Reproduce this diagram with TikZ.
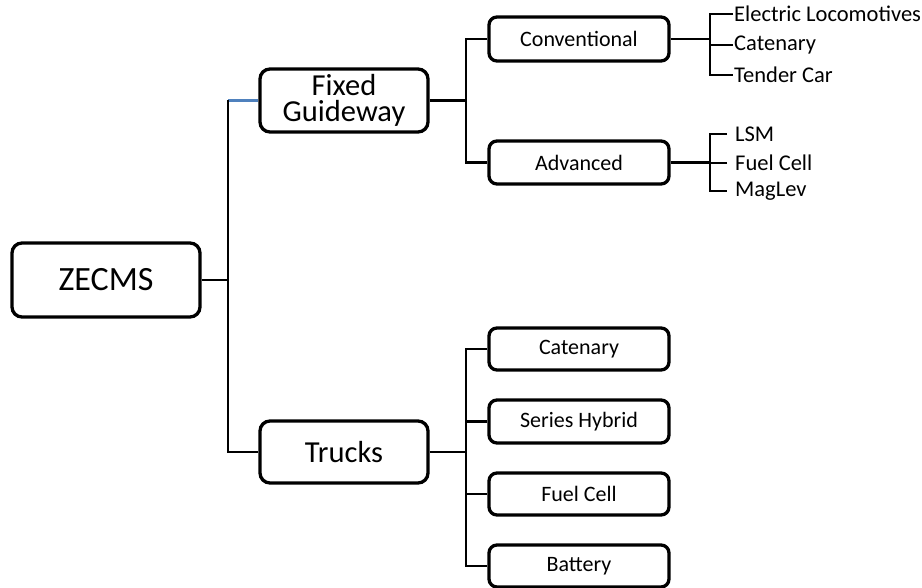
\documentclass[tikz,border=0pt]{standalone}
\usepackage{fontspec}
\setmainfont{Carlito}
\definecolor{linkblue}{HTML}{4F81BD}
\begin{document}
\begin{tikzpicture}[x=1pt,y=-1pt,
  box/.style={draw=black,line width=3.3pt,rounded corners=10pt,fill=white,inner sep=0pt,align=center},
  bigbox/.style={box,minimum width=188pt,minimum height=74pt,font=\fontsize{34}{34}\selectfont},
  midbox/.style={box,minimum width=168pt,minimum height=62pt,font=\fontsize{30.5}{25.5}\selectfont},
  smallbox/.style={box,rounded corners=8pt,minimum width=180pt,minimum height=43pt,font=\fontsize{22}{24}\selectfont},
  leaf/.style={anchor=west,inner xsep=1pt,inner ysep=0pt,font=\fontsize{22.5}{24}\selectfont},
  advleaf/.style={leaf,inner xsep=8pt},
  conn/.style={draw=black,line width=2.2pt}]
\useasboundingbox (0,0) rectangle (922,588);

\node[bigbox] (zecms) at (106,280) {ZECMS};
\node[midbox,minimum height=63pt] (fixed) at (344,100.5) {Fixed\\Guideway};
\node[midbox] (trucks) at (344,452) {Trucks};

\node[smallbox,minimum height=44pt] (conv) at (579,39) {Conventional};
\node[smallbox] (adv) at (579,162.5) {Advanced};

\node[smallbox,minimum height=42pt] (tcat) at (579,349) {Catenary};
\node[smallbox] (tsh) at (579,421.5) {Series Hybrid};
\node[smallbox,minimum height=42pt] (tfc) at (579,494) {Fuel Cell};
\node[smallbox,minimum height=42pt] (tbat) at (579,566) {Battery};

\node[leaf] (el) at (733,14) {Electric Locomotives};
\node[leaf] (ccat) at (733,45) {Catenary};
\node[leaf] (tc) at (733,75) {Tender Car};

\node[advleaf] (lsm) at (727,134) {LSM};
\node[advleaf] (afc) at (727,163) {Fuel Cell};
\node[advleaf] (mag) at (727,191) {MagLev};

% ZECMS trunk
\draw[conn,linkblue] (fixed.west) -- ++(-30,0) coordinate (j1);
\draw[conn] (j1) |- (trucks.west);
\draw[conn] (zecms.east) -- (zecms.east -| j1);

% Fixed Guideway
\draw[conn] (conv.west) -- ++(-21,0) coordinate (j2) |- (adv.west);
\draw[conn] (fixed.east) -- (fixed.east -| j2);

% Trucks
\draw[conn] (tcat.west) -- ++(-21,0) coordinate (j3) |- (tbat.west);
\draw[conn] (tsh.west) -- (tsh.west -| j3);
\draw[conn] (tfc.west) -- (tfc.west -| j3);
\draw[conn] (trucks.east) -- (trucks.east -| j3);

% Conventional leaves
\draw[conn] (el.west) -- ++(-23,0) coordinate (j4) |- (tc.west);
\draw[conn] (ccat.west) -- (ccat.west -| j4);
\draw[conn] (conv.east) -- (conv.east -| j4);

% Advanced leaves
\draw[conn] (lsm.west) -- ++(-17,0) coordinate (j5) |- (mag.west);
\draw[conn] (afc.west) -- (afc.west -| j5);
\draw[conn] (adv.east) -- (adv.east -| j5);
\end{tikzpicture}
\end{document}
